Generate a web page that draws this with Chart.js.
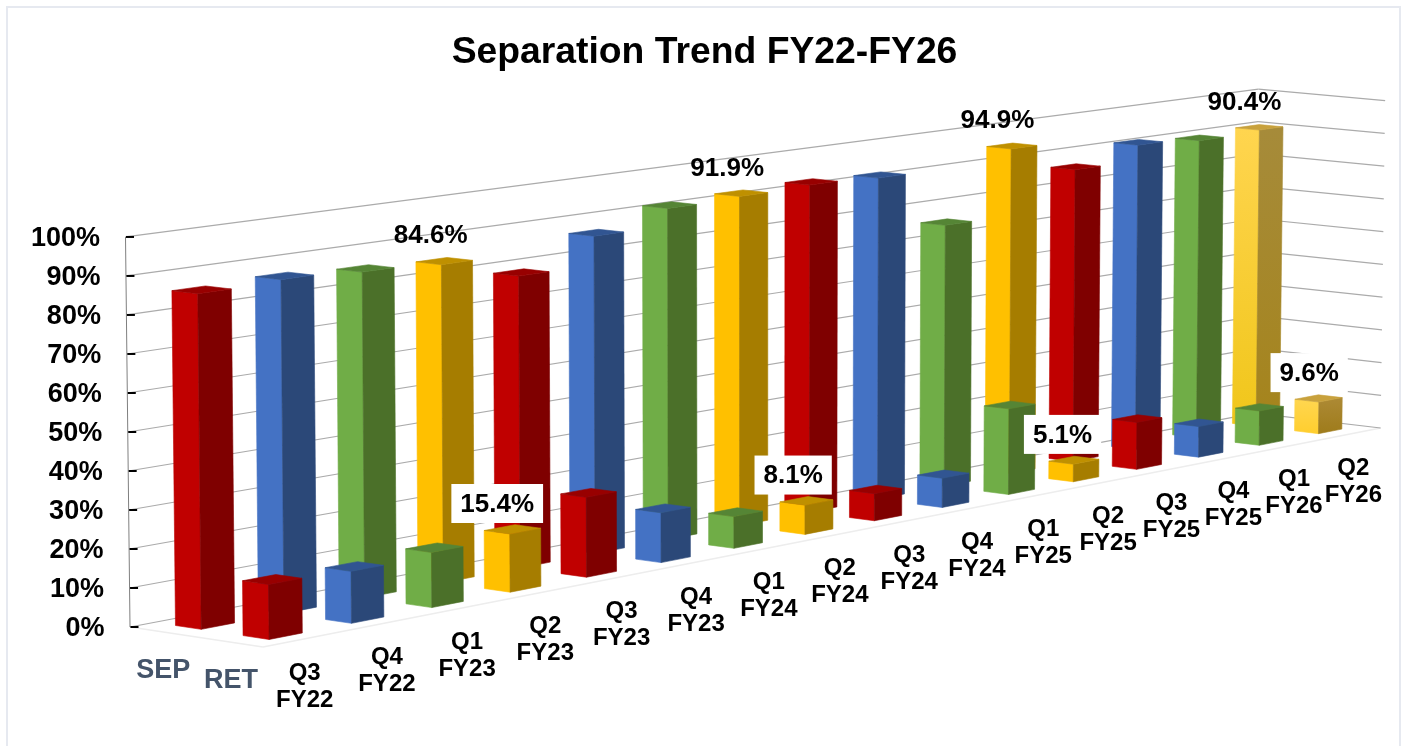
<!DOCTYPE html>
<html>
<head>
<meta charset="utf-8">
<style>
html,body{margin:0;padding:0;background:#fff;overflow:hidden}
canvas{display:block}
</style>
<script src="https://cdn.jsdelivr.net/npm/chart.js@4"></script>
</head>
<body>
<canvas id="c" width="1405" height="746"></canvas>
<script>
const chartTitle = 'Separation Trend FY22-FY26';
const quarters = ['Q3 FY22','Q4 FY22','Q1 FY23','Q2 FY23','Q3 FY23','Q4 FY23','Q1 FY24','Q2 FY24','Q3 FY24','Q4 FY24','Q1 FY25','Q2 FY25','Q3 FY25','Q4 FY25','Q1 FY26','Q2 FY26'];
const sepValues = [86.0,86.6,85.6,84.6,78.6,86.5,91.3,91.9,92.4,91.7,75.4,94.9,86.2,90.9,89.7,90.4];
const retValues = [14.0,13.4,14.4,15.4,21.4,13.5,8.7,8.1,7.6,8.3,24.6,5.1,13.8,9.1,10.3,9.6];
const labelledQuarters = [3,7,11,15];
const rowNames = ['SEP','RET'];
const leftFaces  = ['#C00000','#4472C4','#70AD47','#FFC000'];
const rightFaces = ['#7F0000','#2B4878','#4B7029','#A67D00'];
const topFaces   = ['#980000','#315592','#558535','#BF9000'];

/* camera of the 3D plot: maps plot-plane pixels + depth to the screen */
const CAM = {du:86.3, dvy:-8.1, dx:129.8, dy:12.2, wu:0.01275, wd:-0.012, lean:0.0072, lc:755};
const DEPTH = {SEP:[0.16,0.355], RET:[0.67,0.865]};
const WALL_FRONT = 1.035;
const FONT = '"Liberation Sans", Arial, sans-serif';

function project(chart, u, d, vpx){
  const a = chart.chartArea;
  const w = 1 + CAM.wu*u + CAM.wd*d;
  let x = (a.left + CAM.du*u + CAM.dx*d)/w;
  const y = (a.bottom + CAM.dvy*u + CAM.dy*d - vpx)/w;
  x += (x-CAM.lc)*CAM.lean*(vpx/(a.bottom-a.top));
  return {x,y};
}
function poly(ctx, pts, fill){
  ctx.beginPath();
  pts.forEach((p,i)=> i? ctx.lineTo(p.x,p.y):ctx.moveTo(p.x,p.y));
  ctx.closePath();
  ctx.fillStyle = fill; ctx.fill();
  ctx.lineWidth = 0.6; ctx.strokeStyle = fill; ctx.stroke();
}
function grad(ctx, a, b, c1, c2){
  const g = ctx.createLinearGradient(0,a,0,b);
  g.addColorStop(0,c1); g.addColorStop(1,c2); return g;
}

class Bar3D extends Chart.BarController {
  draw(){
    const chart = this.chart, ctx = chart.ctx, xs = this._cachedMeta.xScale, ys = this._cachedMeta.yScale;
    const cat = xs.width/quarters.length;
    const ds = this.getDataset();
    const [d0,d1] = DEPTH[ds.label];
    ctx.save();
    this._cachedMeta.data.forEach((el,i)=>{
      const u0 = (el.x - el.width/2 - xs.left)/cat - 0.01, u1 = (el.x + el.width/2 - xs.left)/cat - 0.01;
      const v = ys.bottom - el.y;
      const p = (u,d,h)=>project(chart,u,d,h);
      const A=p(u0,d0,0),B=p(u0,d1,0),C=p(u1,d1,0);
      const At=p(u0,d0,v),Bt=p(u0,d1,v),Ct=p(u1,d1,v),Dt=p(u1,d0,v);
      const k = i%4;
      let lf = leftFaces[k], rf = rightFaces[k], tf = topFaces[k];
      if(i===quarters.length-1){
        if(ds.label==='SEP'){
          lf = grad(ctx,At.y,B.y,'#FFD54F','#F0C61A');
          rf = grad(ctx,Ct.y,C.y,'#A68B3A','#A5841C');
          tf = '#C8A13C';
        } else {
          lf = grad(ctx,At.y,B.y,'#FFD650','#FFCE2E');
          rf = grad(ctx,Ct.y,C.y,'#AD8A35','#A07D1E');
          tf = '#C8A13C';
        }
      }
      poly(ctx,[A,B,Bt,At],lf);
      poly(ctx,[B,C,Ct,Bt],rf);
      poly(ctx,[At,Bt,Ct,Dt],tf);
    });
    ctx.restore();
  }
}
Bar3D.id = 'bar3d';
Bar3D.defaults = Chart.BarController.defaults;
Bar3D.overrides = Chart.BarController.overrides;
Chart.register(Bar3D);

const frame = {
  id:'frame',
  beforeDraw(chart){
    const ctx = chart.ctx;
    ctx.save();
    ctx.strokeStyle = '#E6E9F0'; ctx.lineWidth = 2;
    ctx.beginPath();
    ctx.moveTo(7,746); ctx.lineTo(7,7); ctx.lineTo(1400,7); ctx.lineTo(1400,746);
    ctx.stroke();
    ctx.restore();
  }
};

const walls = {
  id:'walls',
  beforeDatasetsDraw(chart){
    const ctx = chart.ctx, ys = chart.scales.y, n = quarters.length;
    const line = (a,b,col,w)=>{ctx.strokeStyle=col;ctx.lineWidth=w;ctx.beginPath();ctx.moveTo(a.x,a.y);ctx.lineTo(b.x,b.y);ctx.stroke();};
    ctx.save();
    // floor edges
    const bl=project(chart,0,0,0), fl=project(chart,0,1,0), fr=project(chart,n,WALL_FRONT,0);
    line(bl,fl,'#EDEDED',1.5); line(fl,fr,'#EDEDED',1.5);
    // gridlines on back and side walls
    ys.ticks.forEach(t=>{
      const h = ys.bottom - ys.getPixelForValue(t.value);
      const a=project(chart,0,0,h), b=project(chart,n,0,h), c=project(chart,n,WALL_FRONT,h);
      line(a,b,'#ABABAB',1.2); line(b,c,'#ABABAB',1.2);
    });
    // value axis
    line(project(chart,0,0,0),project(chart,0,0,ys.bottom-ys.top),'#7F7F7F',1);
    ys.ticks.forEach(t=>{
      const h = ys.bottom - ys.getPixelForValue(t.value);
      const a=project(chart,0,0,h);
      line({x:a.x+0.5,y:a.y},{x:a.x+8.5,y:a.y},'#000',2);
      ctx.fillStyle='#000'; ctx.font='bold 27px '+FONT; ctx.textAlign='right'; ctx.textBaseline='middle';
      ctx.fillText(t.label,a.x-25.5,a.y+1.5);
    });
    ctx.restore();
  },
  afterDatasetsDraw(chart){
    const ctx = chart.ctx, ys = chart.scales.y, xs = chart.scales.x, cat = xs.width/quarters.length;
    ctx.save();
    ctx.textAlign='center'; ctx.textBaseline='middle';
    // category labels along the front floor edge
    ctx.fillStyle='#000'; ctx.font='bold 24px '+FONT;
    quarters.forEach((q,i)=>{
      const u=(xs.getPixelForValue(i)-xs.left)/cat;
      const p=project(chart,u,1,0);
      const parts=q.split(' ');
      ctx.fillText(parts[0],p.x+0.4*i,p.y+48.5-13.5);
      ctx.fillText(parts[1],p.x+0.4*i,p.y+48.5+13.5);
    });
    // depth labels
    ctx.fillStyle='#44546A'; ctx.font='bold 27px '+FONT;
    rowNames.forEach(name=>{
      const mid=(DEPTH[name][0]+DEPTH[name][1])/2;
      const p=project(chart,0,mid,0);
      ctx.fillText(name,p.x-0.7,p.y+38);
    });
    // value labels
    ctx.font='bold 26px '+FONT;
    chart.data.datasets.forEach((ds,di)=>{
      const meta=chart.getDatasetMeta(di), [d0,d1]=DEPTH[ds.label];
      labelledQuarters.forEach(i=>{
        const el=meta.data[i];
        const u=(el.x-xs.left)/cat, v=ys.bottom-el.y;
        const p=project(chart,u,(d0+d1)/2,v);
        const cx=ds.label==='RET' ? p.x-17.5+0.5*i : p.x-14-0.1*i, cy=p.y-25.7;
        const txt=ds.data[i].toFixed(1)+'%';
        if(ds.label==='RET'){
          const w=ctx.measureText(txt).width+18;
          ctx.fillStyle='#fff'; ctx.fillRect(cx-w/2,cy-19.5,w,39);
        }
        ctx.fillStyle='#000'; ctx.fillText(txt,cx,cy+1);
      });
    });
    ctx.restore();
  }
};

new Chart(document.getElementById('c'),{
  type:'bar3d',
  data:{
    labels:quarters,
    datasets:[
      {label:'SEP',data:sepValues,order:1,grouped:false,clip:false,categoryPercentage:1,barPercentage:0.40},
      {label:'RET',data:retValues,order:0,grouped:false,clip:false,categoryPercentage:1,barPercentage:0.40}
    ]
  },
  plugins:[frame,walls],
  options:{
    responsive:false,
    animation:false,
    events:[],
    layout:{padding:{left:4,right:0,top:0,bottom:119}},
    plugins:{
      legend:{display:false},
      tooltip:{enabled:false},
      title:{display:true,text:chartTitle,color:'#000',font:{family:FONT,size:37.3,weight:'bold',lineHeight:1.2},padding:{top:30.5,bottom:161.7}}
    },
    scales:{
      x:{type:'category',display:false,offset:true},
      y:{type:'linear',position:'left',min:0,max:100,
         afterFit(s){s.width=126;},
         grid:{display:false},border:{display:false},
         ticks:{display:false,stepSize:10,callback:v=>v+'%'}}
    }
  }
});
</script>
</body>
</html>
